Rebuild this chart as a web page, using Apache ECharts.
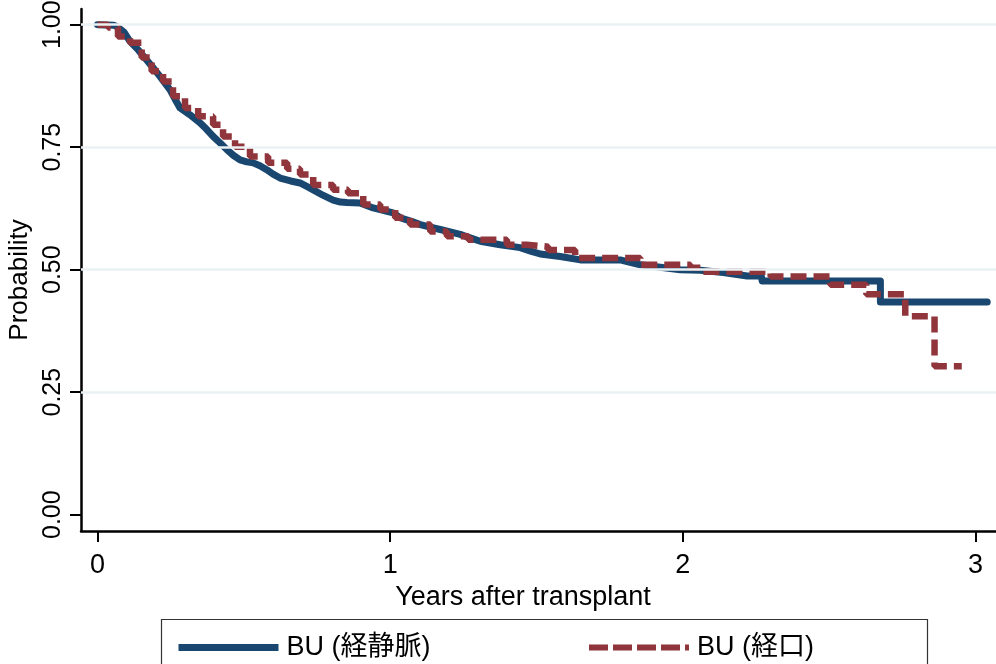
<!DOCTYPE html>
<html><head><meta charset="utf-8">
<script src="https://cdn.jsdelivr.net/npm/echarts@6/dist/echarts.min.js"></script>
<style>html,body{margin:0;padding:0;background:#fff}#c{width:996px;height:664px}</style>
</head><body><div id="c"></div>
<script>
// Kaplan-Meier estimates (years, probability)
const ivYears = [0, 0.055, 0.066, 0.09, 0.111, 0.14, 0.168, 0.19, 0.214, 0.248, 0.265, 0.282, 0.316, 0.35, 0.372, 0.395, 0.42, 0.442, 0.465, 0.487, 0.51, 0.532, 0.555, 0.578, 0.60, 0.624, 0.66, 0.692, 0.715, 0.737, 0.77, 0.805, 0.83, 0.852, 0.897, 0.942, 1.01, 1.034, 1.07, 1.103, 1.137, 1.171, 1.205, 1.239, 1.273, 1.308, 1.376, 1.444, 1.48, 1.513, 1.581, 1.65, 1.786, 1.82, 1.855, 1.923, 1.991, 2.06, 2.138, 2.22, 2.268, 2.271, 2.675, 2.675, 3.04];
const ivSurv  = [1.0, 0.999, 0.996, 0.985, 0.966, 0.948, 0.928, 0.912, 0.894, 0.867, 0.848, 0.830, 0.816, 0.800, 0.787, 0.772, 0.758, 0.745, 0.733, 0.724, 0.720, 0.718, 0.712, 0.704, 0.695, 0.687, 0.681, 0.677, 0.670, 0.663, 0.652, 0.642, 0.638, 0.637, 0.636, 0.626, 0.616, 0.606, 0.599, 0.592, 0.587, 0.582, 0.577, 0.572, 0.565, 0.558, 0.551, 0.545, 0.538, 0.532, 0.527, 0.520, 0.520, 0.515, 0.510, 0.505, 0.500, 0.499, 0.494, 0.487, 0.487, 0.477, 0.477, 0.434, 0.434];

const poYears = [0, 0.036, 0.07, 0.111, 0.151, 0.185, 0.224, 0.258, 0.299, 0.344, 0.395, 0.429, 0.47, 0.521, 0.583, 0.648, 0.692, 0.737, 0.805, 0.856, 0.908, 0.966, 1.017, 1.068, 1.137, 1.194, 1.267, 1.399, 1.467, 1.54, 1.632, 1.855, 2.026, 2.06, 2.30, 2.504, 2.627, 2.76, 2.86, 2.953];
const poSurv  = [1.0, 0.994, 0.976, 0.963, 0.933, 0.905, 0.884, 0.854, 0.830, 0.813, 0.796, 0.772, 0.751, 0.731, 0.718, 0.706, 0.694, 0.673, 0.663, 0.656, 0.633, 0.623, 0.606, 0.592, 0.578, 0.568, 0.561, 0.551, 0.547, 0.540, 0.524, 0.510, 0.504, 0.496, 0.486, 0.469, 0.450, 0.405, 0.303, 0.303];

const xTicks = [0, 1, 2, 3];
const yTicks = [0, 0.25, 0.5, 0.75, 1];
const gridValues = [0.25, 0.5, 0.75, 1];
const seriesNames = ['BU (経静脈)', 'BU (経口)'];

const FONT = '"Liberation Sans", Arial, "Noto Sans CJK JP", sans-serif';
const BLUE = '#1a476f', RED = '#90353b';

const chart = echarts.init(document.getElementById('c'), null, {renderer: 'canvas'});
chart.setOption({
  animation: false,
  backgroundColor: '#ffffff',
  grid: {left: 81, right: 0, top: 9, bottom: 133, containLabel: false, outerBoundsMode: 'none'},
  xAxis: {
    type: 'value', min: -0.0564, max: 3.07,
    axisLine: {show: true, onZero: false, lineStyle: {color: '#000', width: 2.5}},
    axisTick: {show: true, length: 11, lineStyle: {color: '#000', width: 2}, customValues: xTicks},
    axisLabel: {customValues: xTicks, margin: 21, color: '#000', fontSize: 27, fontFamily: FONT,
      formatter: v => String(v)},
    splitLine: {show: false},
    name: 'Years after transplant', nameLocation: 'middle', nameGap: 44,
    nameTextStyle: {color: '#000', fontSize: 27, fontFamily: FONT, padding: [0, 31, 0, 0]}
  },
  yAxis: {
    type: 'value', min: -0.0333, max: 1.032,
    axisLine: {show: true, onZero: false, lineStyle: {color: '#000', width: 2.5}},
    axisTick: {show: true, length: 11, lineStyle: {color: '#000', width: 2}, customValues: yTicks},
    axisLabel: {customValues: yTicks, rotate: 90, margin: 15, color: '#000', fontSize: 25, fontFamily: FONT,
      formatter: v => v.toFixed(2)},
    splitLine: {show: false},
    name: 'Probability', nameLocation: 'middle', nameGap: 44, nameRotate: 90,
    nameTextStyle: {color: '#000', fontSize: 26, fontFamily: FONT, padding: [0, 20, 0, 0]}
  },
  legend: [
    {data: [seriesNames[0]], left: 170, top: 629, itemWidth: 100, itemHeight: 14,
      itemStyle: {opacity: 0},
      textStyle: {fontSize: 27, fontFamily: FONT, color: '#000', padding: [0, 0, 0, 3]},
      lineStyle: {width: 7, cap: 'butt'}},
    {data: [seriesNames[1]], left: 581, top: 629, itemWidth: 100, itemHeight: 14,
      itemStyle: {opacity: 0},
      textStyle: {fontSize: 27, fontFamily: FONT, color: '#000', padding: [0, 0, 0, 3]},
      lineStyle: {width: 6, type: [19, 5], cap: 'butt'}}
  ],
  graphic: [{type: 'rect', left: 159, top: 617, shape: {width: 766, height: 60},
    style: {fill: 'none', stroke: '#333', lineWidth: 1.2}, silent: true}],
  series: [
    {type: 'line', name: '_grid', data: [], silent: true, z: 1,
      markLine: {silent: true, symbol: 'none', label: {show: false},
        lineStyle: {color: '#eaf2f3', width: 2.5, type: 'solid'},
        data: gridValues.map(v => ({yAxis: v}))}},
    {type: 'line', name: seriesNames[0], z: 3, showSymbol: false, symbol: 'none',
      data: ivYears.map((x, i) => [x, ivSurv[i]]),
      lineStyle: {color: BLUE, width: 7, cap: 'round', join: 'round'}, itemStyle: {color: BLUE}},
    {type: 'line', name: seriesNames[1], z: 4, showSymbol: false, symbol: 'none', step: 'end',
      data: poYears.map((x, i) => [x, poSurv[i]]),
      lineStyle: {color: RED, width: 6.5, type: [16, 7], cap: 'butt'}, itemStyle: {color: RED}}
  ]
});
</script></body></html>
